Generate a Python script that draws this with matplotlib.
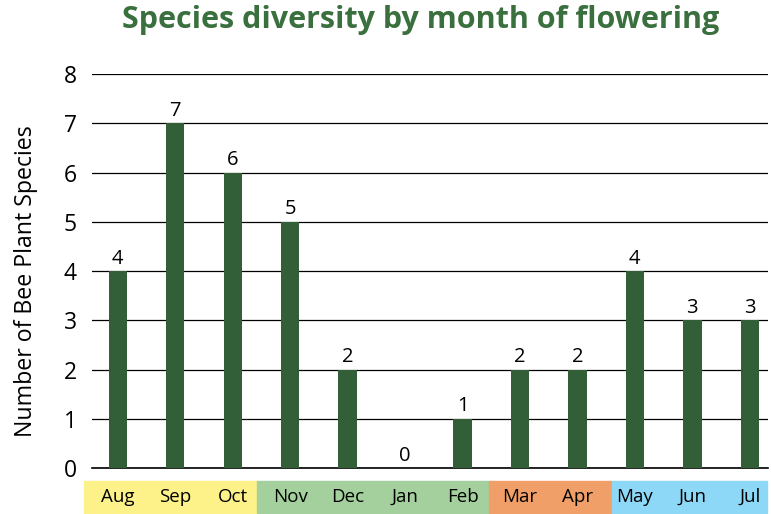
import matplotlib.pyplot as plt
from matplotlib.patches import Rectangle
import matplotlib.transforms as mtransforms

months = ['Aug', 'Sep', 'Oct', 'Nov', 'Dec', 'Jan', 'Feb', 'Mar', 'Apr', 'May', 'Jun', 'Jul']
species = [4, 7, 6, 5, 2, 0, 1, 2, 2, 4, 3, 3]

# season bands under the month labels: (first month, last month, colour)
seasons = [(0, 2, '#fdf28a'), (3, 6, '#a3d09c'), (7, 8, '#f19f68'), (9, 11, '#8dd8f6')]

plt.rcParams['font.family'] = ['Open Sans', 'DejaVu Sans']

fig = plt.figure(figsize=(7.71, 5.14), dpi=100)
ax = fig.add_axes([0.1193, 0.0895, 0.877, 0.7665])

x = list(range(len(months)))
ax.bar(x, species, width=0.32, color='#335f38', zorder=3)

for xi, v in zip(x, species):
    ax.text(xi, v + 0.05, str(v), ha='center', va='bottom', fontsize=14.5)

ax.set_xlim(-0.45, 11.32)
ax.set_ylim(0, 8)
ax.set_yticks(range(0, 9))
ax.yaxis.grid(True, color='black', linewidth=0.9, zorder=0)
ax.tick_params(axis='y', length=0, labelsize=16.5, pad=11)
ax.tick_params(axis='x', length=0, labelbottom=False)
for s in ['top', 'right', 'left']:
    ax.spines[s].set_visible(False)
ax.spines['bottom'].set_linewidth(1.2)

# coloured month bands below the axis
trans = mtransforms.blended_transform_factory(ax.transData, ax.transAxes)
edges = [-0.59, 2.42, 6.46, 8.6, 11.3]
for i, (a, b, col) in enumerate(seasons):
    ax.add_patch(Rectangle((edges[i], -0.114), edges[i + 1] - edges[i], 0.081,
                           transform=trans, color=col, clip_on=False, zorder=1))
for xi, m in zip(x, months):
    ax.text(xi, -0.074, m, transform=trans, ha='center', va='center', fontsize=13.5, zorder=2)

ax.set_ylabel('Number of Bee Plant Species', fontsize=16.7)
ax.yaxis.set_label_coords(-0.080, 0.475)
fig.suptitle('Species diversity by month of flowering', x=0.545, y=0.99,
             fontsize=22, fontweight='bold', color='#3a6f3e')

fig.savefig('out.png', dpi=100)
